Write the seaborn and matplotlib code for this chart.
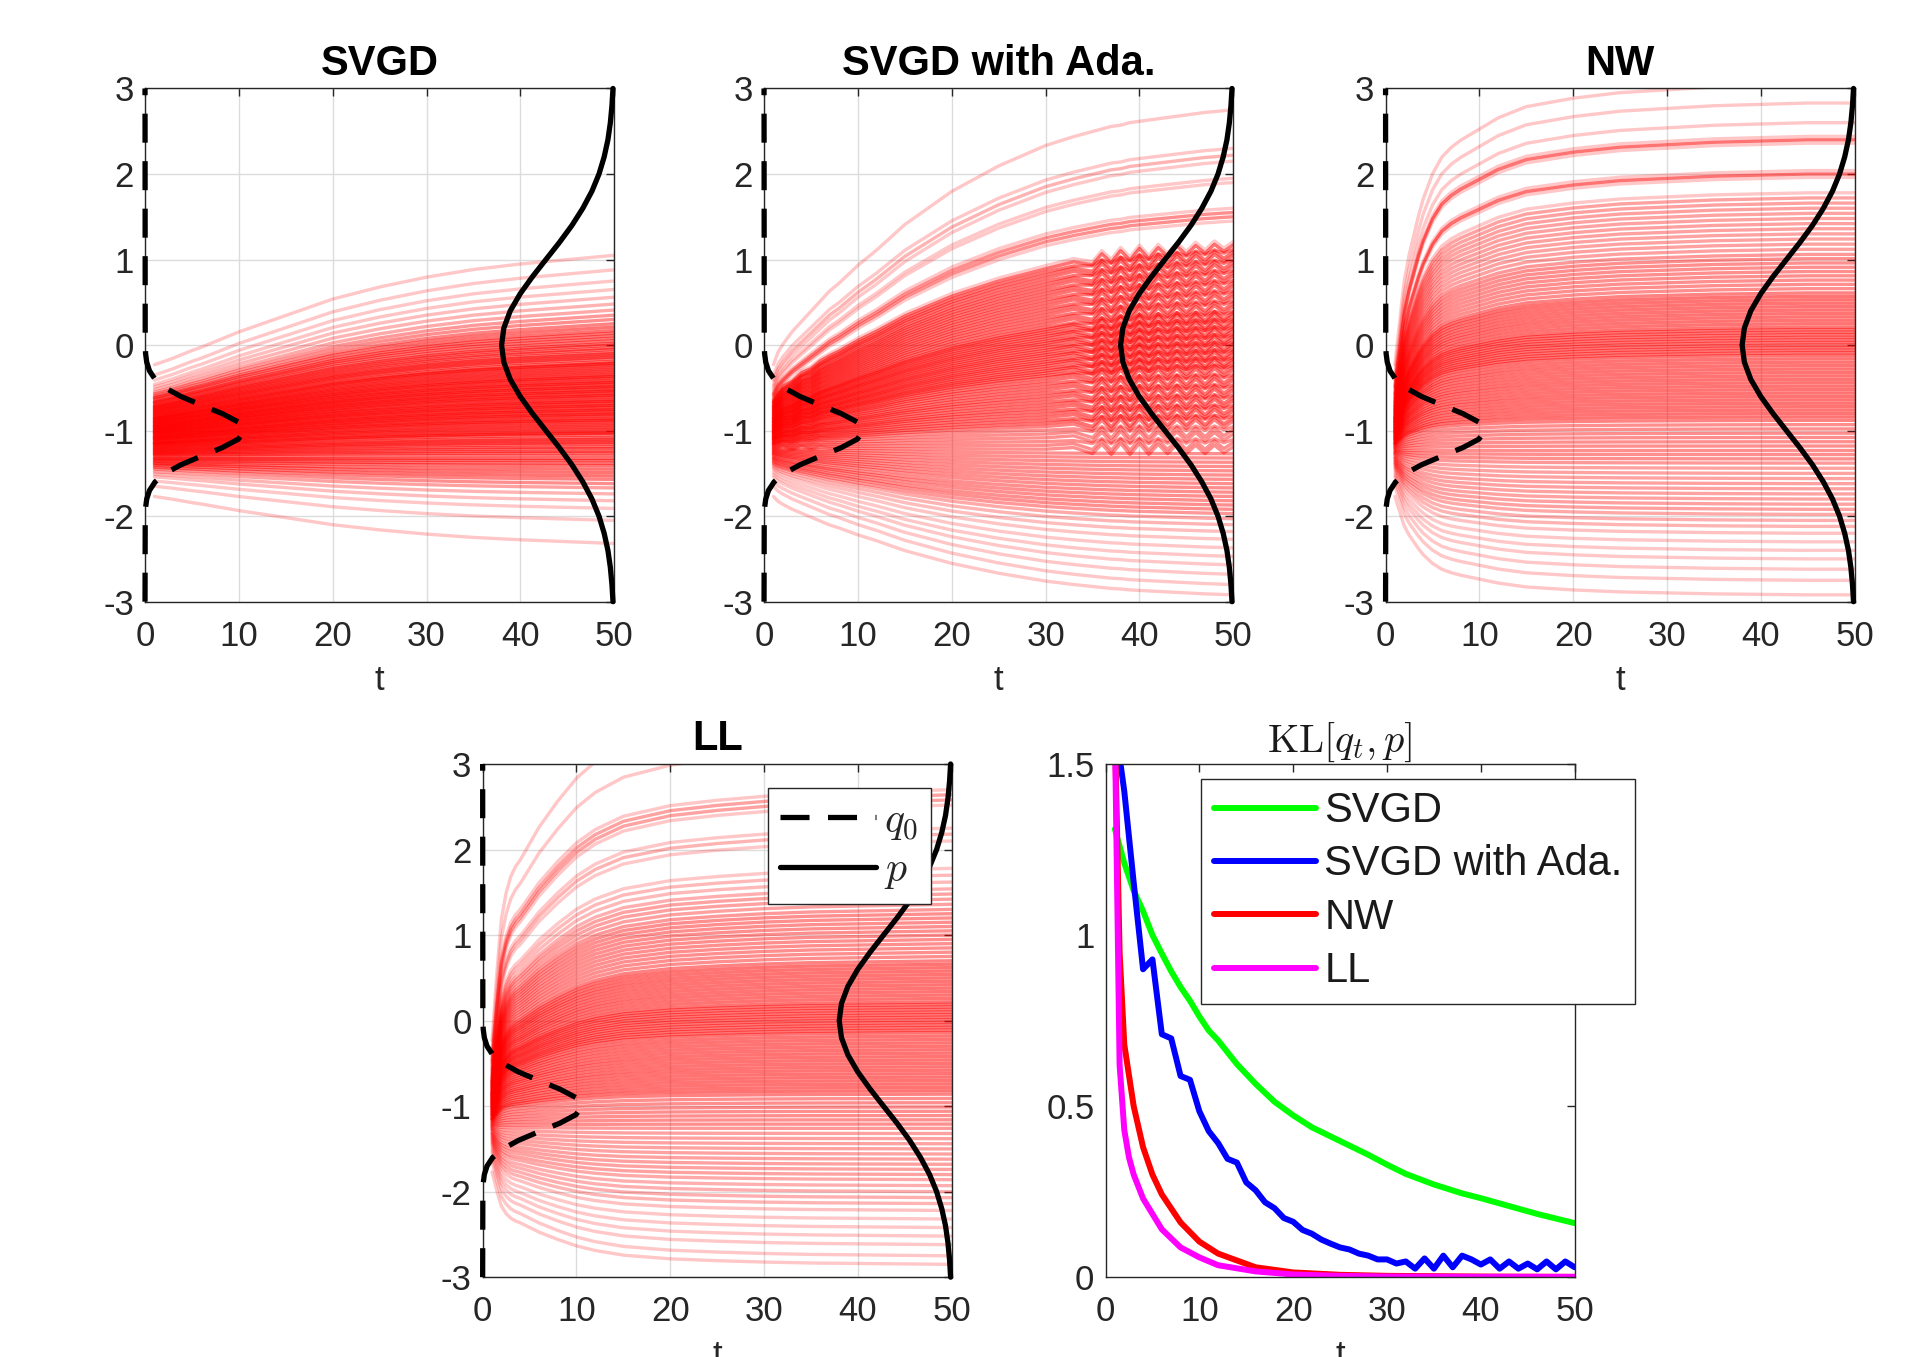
import numpy as np
import pandas as pd
import matplotlib
matplotlib.use("Agg")
import matplotlib.pyplot as plt
import seaborn as sns

# ---------------- data ----------------
panel_titles = ["SVGD", "SVGD with Ada.", "NW", "LL"]
x_ticks = [0, 10, 20, 30, 40, 50]
x_tick_labels = ["0", "10", "20", "30", "40", "50"]
y_ticks = [-3, -2, -1, 0, 1, 2, 3]
y_tick_labels = ["-3", "-2", "-1", "0", "1", "2", "3"]
kl_y_ticks = [0, 0.5, 1, 1.5]
kl_y_tick_labels = ["0", "0.5", "1", "1.5"]

# particle positions at t = 1 (samples of q0), sorted
start_pos = [
    -1.77, -1.65, -1.59, -1.54, -1.51, -1.48, -1.45, -1.43, -1.41, -1.39,
    -1.38, -1.36, -1.35, -1.33, -1.32, -1.31, -1.29, -1.28, -1.27, -1.26,
    -1.25, -1.24, -1.23, -1.22, -1.21, -1.20, -1.19, -1.18, -1.17, -1.16,
    -1.15, -1.15, -1.14, -1.13, -1.12, -1.11, -1.10, -1.10, -1.09, -1.08,
    -1.07, -1.07, -1.06, -1.05, -1.04, -1.03, -1.03, -1.02, -1.01, -1.00,
    -1.00, -0.99, -0.98, -0.97, -0.97, -0.96, -0.95, -0.94, -0.94, -0.93,
    -0.92, -0.91, -0.90, -0.90, -0.89, -0.88, -0.87, -0.86, -0.86, -0.85,
    -0.84, -0.83, -0.82, -0.81, -0.80, -0.79, -0.78, -0.77, -0.76, -0.75,
    -0.74, -0.73, -0.72, -0.71, -0.70, -0.68, -0.67, -0.66, -0.64, -0.62,
    -0.61, -0.59, -0.57, -0.55, -0.52, -0.49, -0.46, -0.41, -0.35, -0.23,
]

# particle positions at t = 50, sorted
svgd_final = [
    -2.32, -2.05, -1.91, -1.82, -1.74, -1.67, -1.62, -1.57, -1.53, -1.49,
    -1.45, -1.41, -1.38, -1.35, -1.32, -1.29, -1.26, -1.24, -1.21, -1.19,
    -1.16, -1.14, -1.12, -1.10, -1.08, -1.05, -1.03, -1.02, -1.00, -0.98,
    -0.96, -0.94, -0.92, -0.90, -0.88, -0.87, -0.85, -0.83, -0.81, -0.80,
    -0.78, -0.76, -0.75, -0.73, -0.71, -0.70, -0.68, -0.66, -0.65, -0.63,
    -0.61, -0.59, -0.58, -0.56, -0.54, -0.53, -0.51, -0.49, -0.48, -0.46,
    -0.44, -0.43, -0.41, -0.39, -0.37, -0.36, -0.34, -0.32, -0.30, -0.28,
    -0.26, -0.24, -0.22, -0.21, -0.19, -0.16, -0.14, -0.12, -0.10, -0.08,
    -0.05, -0.03, 0.00, 0.02, 0.05, 0.08, 0.11, 0.14, 0.17, 0.21,
    0.25, 0.30, 0.35, 0.41, 0.48, 0.56, 0.65, 0.75, 0.88, 1.05,
]
ada_final = [
    -2.92, -2.80, -2.68, -2.57, -2.47, -2.37, -2.27, -2.18, -2.10, -2.03,
    -1.97, -1.92, -1.87, -1.82, -1.77, -1.72, -1.67, -1.62, -1.57, -1.52,
    -1.47, -1.42, -1.37, -1.32, -1.27, -1.22, -1.17, -1.12, -1.07, -1.02,
    -0.97, -0.92, -0.88, -0.84, -0.80, -0.76, -0.72, -0.68, -0.64, -0.60,
    -0.56, -0.52, -0.48, -0.44, -0.40, -0.36, -0.32, -0.28, -0.25, -0.22,
    -0.19, -0.16, -0.13, -0.10, -0.07, -0.04, -0.01, 0.02, 0.05, 0.08,
    0.11, 0.14, 0.17, 0.20, 0.23, 0.26, 0.29, 0.32, 0.35, 0.38,
    0.42, 0.46, 0.50, 0.54, 0.58, 0.62, 0.66, 0.70, 0.74, 0.78,
    0.82, 0.86, 0.90, 0.94, 0.98, 1.02, 1.06, 1.10, 1.14, 1.18,
    1.45, 1.50, 1.55, 1.60, 1.90, 1.95, 2.15, 2.22, 2.30, 2.75,
]
nw_final = [
    -2.92, -2.75, -2.62, -2.50, -2.40, -2.30, -2.20, -2.12, -2.05, -1.98,
    -1.92, -1.86, -1.80, -1.74, -1.68, -1.62, -1.56, -1.50, -1.44, -1.38,
    -1.33, -1.28, -1.23, -1.18, -1.13, -1.08, -1.03, -0.98, -0.93, -0.88,
    -0.84, -0.80, -0.76, -0.72, -0.68, -0.64, -0.60, -0.56, -0.52, -0.48,
    -0.44, -0.40, -0.36, -0.32, -0.28, -0.24, -0.20, -0.16, -0.12, -0.09,
    -0.06, -0.03, 0.00, 0.03, 0.06, 0.09, 0.12, 0.15, 0.18, 0.21,
    0.25, 0.29, 0.33, 0.37, 0.41, 0.45, 0.49, 0.53, 0.57, 0.61,
    0.66, 0.71, 0.76, 0.81, 0.86, 0.91, 0.96, 1.01, 1.06, 1.12,
    1.18, 1.24, 1.30, 1.36, 1.42, 1.48, 1.54, 1.60, 1.66, 1.72,
    1.78, 1.96, 2.00, 2.04, 2.36, 2.40, 2.44, 2.60, 2.83, 3.05,
]
ll_final = [
    -2.85, -2.75, -2.62, -2.52, -2.42, -2.32, -2.22, -2.14, -2.07, -2.00,
    -1.93, -1.86, -1.80, -1.74, -1.68, -1.62, -1.56, -1.50, -1.44, -1.38,
    -1.32, -1.26, -1.21, -1.16, -1.11, -1.06, -1.01, -0.96, -0.91, -0.86,
    -0.82, -0.78, -0.74, -0.70, -0.66, -0.62, -0.58, -0.54, -0.50, -0.46,
    -0.42, -0.38, -0.34, -0.30, -0.26, -0.22, -0.18, -0.14, -0.11, -0.08,
    -0.05, -0.02, 0.01, 0.04, 0.07, 0.10, 0.13, 0.16, 0.19, 0.22,
    0.26, 0.30, 0.34, 0.38, 0.42, 0.46, 0.50, 0.54, 0.58, 0.62,
    0.66, 0.70, 0.75, 0.80, 0.85, 0.90, 0.95, 1.00, 1.05, 1.10,
    1.15, 1.20, 1.25, 1.30, 1.36, 1.42, 1.48, 1.54, 1.62, 1.70,
    1.78, 2.10, 2.18, 2.25, 2.52, 2.58, 2.64, 2.70, 3.20, 3.60,
]

# fraction of the way from start to final position reached at each time
path_t = [1, 1.25, 1.5, 1.75, 2, 2.5, 3, 3.5, 4, 5, 6, 7, 8, 10, 12, 15,
          20, 25, 30, 35, 40, 45, 50]
svgd_progress = [0, 0.008, 0.015, 0.022, 0.03, 0.045, 0.06, 0.078, 0.095,
                 0.13, 0.16, 0.195, 0.23, 0.30, 0.36, 0.45, 0.60, 0.71, 0.80,
                 0.87, 0.92, 0.96, 1.0]
nw_progress = [0, 0.08, 0.15, 0.23, 0.30, 0.39, 0.46, 0.53, 0.59, 0.68, 0.74,
               0.775, 0.80, 0.84, 0.88, 0.92, 0.95, 0.97, 0.98, 0.99, 0.995,
               1.0, 1.0]
ll_progress = [0, 0.10, 0.20, 0.29, 0.37, 0.45, 0.50, 0.53, 0.55, 0.60, 0.65,
               0.69, 0.73, 0.80, 0.85, 0.90, 0.94, 0.96, 0.975, 0.985, 0.99,
               0.995, 1.0]
ada_t = [1, 1.5, 2, 3, 4, 5, 6, 7, 8, 10, 12, 15, 20, 25, 30, 33,
         35, 36, 37, 38, 39, 40, 41, 42, 43, 44, 45, 46, 47, 48, 49, 50]
ada_progress = [0, 0.05, 0.08, 0.13, 0.17, 0.21, 0.25, 0.29, 0.32, 0.39,
                0.45, 0.55, 0.68, 0.78, 0.86, 0.895, 0.915, 0.925, 0.935,
                0.94, 0.95, 0.955, 0.96, 0.965, 0.97, 0.975, 0.98, 0.985,
                0.99, 0.993, 0.997, 1.0]
ada_wiggle = [0, 0, 0.015, -0.015, 0.015, -0.01, 0.01, 0, 0, 0,
              0, 0, 0, 0, 0, 0.02, -0.05, 0.06, -0.06, 0.07,
              -0.06, 0.07, -0.06, 0.06, -0.05, 0.06, -0.05, 0.05, -0.05, 0.05,
              -0.04, 0.03]

# target density p (solid, drawn leftwards from t = 50)
p_y = [-3.0, -2.8, -2.6, -2.4, -2.2, -2.0, -1.8, -1.6, -1.4, -1.2, -1.0,
       -0.8, -0.6, -0.4, -0.2, 0.0, 0.2, 0.4, 0.6, 0.8, 1.0, 1.2, 1.4,
       1.6, 1.8, 2.0, 2.2, 2.4, 2.6, 2.8, 3.0]
p_x = [49.87, 49.76, 49.59, 49.33, 48.93, 48.38, 47.63, 46.66, 45.50, 44.16,
       42.72, 41.29, 39.98, 38.92, 38.24, 38.00, 38.24, 38.92, 39.98, 41.29,
       42.72, 44.16, 45.50, 46.66, 47.63, 48.38, 48.93, 49.33, 49.59, 49.76,
       49.87]
# initial density q0 (dashed, drawn rightwards from t = 0)
q0_y = [-3.0, -2.0, -1.9, -1.8, -1.7, -1.6, -1.5, -1.4, -1.3, -1.2, -1.1,
        -1.0, -0.9, -0.8, -0.7, -0.6, -0.5, -0.4, -0.3, -0.2, -0.1, 0.0, 3.0]
q0_x = [0.0, 0.02, 0.06, 0.18, 0.47, 1.07, 2.15, 3.82, 5.97, 8.21, 9.94,
        10.60, 9.94, 8.21, 5.97, 3.82, 2.15, 1.07, 0.47, 0.18, 0.06, 0.02,
        0.0]

# KL divergence curves
kl_svgd_t = [1, 2, 3, 4, 5, 6, 7, 8, 9, 10, 11, 12, 14, 16, 18, 20, 22, 25,
             28, 30, 32, 35, 38, 40, 43, 46, 50]
kl_svgd = [1.31, 1.21, 1.13, 1.07, 1.00, 0.946, 0.894, 0.848, 0.808, 0.762,
           0.721, 0.692, 0.623, 0.565, 0.513, 0.473, 0.438, 0.398, 0.358,
           0.329, 0.302, 0.271, 0.245, 0.231, 0.208, 0.185, 0.158]
kl_ada_t = list(range(1, 51))
kl_ada = [1.62, 1.42, 1.154, 0.90, 0.929, 0.71, 0.698, 0.588, 0.577, 0.485,
          0.427, 0.392, 0.346, 0.335, 0.277, 0.254, 0.219, 0.202, 0.173, 0.162,
          0.138, 0.127, 0.110, 0.098, 0.087, 0.081, 0.069, 0.063, 0.052, 0.052,
          0.040, 0.046, 0.025, 0.055, 0.025, 0.063, 0.029, 0.063, 0.052, 0.037,
          0.052, 0.025, 0.046, 0.025, 0.040, 0.023, 0.046, 0.023, 0.046, 0.029]
kl_nw_t = [1, 1.5, 2, 3, 4, 5, 6, 8, 10, 12, 16, 20, 25, 30, 40, 50]
kl_nw = [1.6, 0.95, 0.68, 0.50, 0.38, 0.30, 0.242, 0.16, 0.104, 0.069, 0.029,
         0.014, 0.007, 0.004, 0.002, 0.001]
kl_ll_t = [1, 1.5, 2, 2.5, 3, 4, 5, 6, 8, 10, 12, 16, 20, 25, 30, 40, 50]
kl_ll = [1.6, 0.62, 0.43, 0.35, 0.30, 0.23, 0.185, 0.14, 0.087, 0.058, 0.035,
         0.017, 0.008, 0.004, 0.002, 0.001, 0.001]
kl_names = ["SVGD", "SVGD with Ada.", "NW", "LL"]
kl_colors = ["#00ff00", "#0000ff", "#ff0000", "#ff00ff"]

# ---------------- style ----------------
sns.set_theme(style="white")
plt.rcParams["font.family"] = ["Liberation Sans", "DejaVu Sans"]
plt.rcParams["mathtext.fontset"] = "cm"
plt.rcParams["axes.unicode_minus"] = False

TICK_FS = 25
TITLE_FS = 30
LEG_FS = 30
AX_COLOR = "#262626"


def style_axes(ax, yticks, ylabels, ylim, grid=True):
    ax.set_xlim(0, 50)
    ax.set_ylim(*ylim)
    ax.set_xticks(x_ticks)
    ax.set_xticklabels(x_tick_labels)
    ax.set_yticks(yticks)
    ax.set_yticklabels(ylabels)
    ax.tick_params(direction="in", top=True, right=True, length=6, width=1,
                   colors=AX_COLOR, labelsize=TICK_FS)
    ax.tick_params(axis="x", pad=13)
    ax.tick_params(axis="y", pad=8)
    for s in ax.spines.values():
        s.set_color(AX_COLOR)
        s.set_linewidth(1.0)
    if grid:
        ax.grid(True, color="#dcdcdc", linewidth=1.0)
        ax.set_axisbelow(True)
    ax.set_xlabel("t", fontsize=TICK_FS, color=AX_COLOR, labelpad=8)


def draw_particles(ax, times, progress, finals, wiggle=None):
    f_arr = np.array(finals)
    s = np.array(start_pos)[None, :]
    f = f_arr[None, :]
    prog = np.array(progress)[:, None]
    paths = s + (f - s) * prog
    if wiggle is not None:
        w = np.array(wiggle)[:, None]
        amp = np.where(np.arange(len(finals)) % 3 == 0, 0.5, 1.0)[None, :]
        mask = (np.abs(f_arr) < 1.25)[None, :]
        paths = paths + w * amp * mask
    # crowded particles read as solid red, isolated ones as faint pink
    spacing = np.gradient(f_arr)
    alphas = np.clip(0.022 / spacing, 0.22, 0.55)
    for i in np.argsort(alphas):
        ax.plot(times, paths[:, i], color="red", alpha=alphas[i],
                linewidth=2.4, solid_joinstyle="round")


def draw_densities(ax):
    ax.plot(q0_x, q0_y, color="black", linewidth=3.8, linestyle=(0, (5.5, 3.5)),
            clip_on=False, zorder=5)
    ax.plot(p_x, p_y, color="black", linewidth=3.8, clip_on=False, zorder=5)


fig = plt.figure(figsize=(19.26, 13.57), dpi=100)
W, H = 0.2436, 0.3782
ax_svgd = fig.add_axes([0.0753, 0.5566, W, H])
ax_ada = fig.add_axes([0.3967, 0.5566, W, H])
ax_nw = fig.add_axes([0.7194, 0.5566, W, H])
ax_ll = fig.add_axes([0.2506, 0.0588, W, H])
ax_kl = fig.add_axes([0.5740, 0.0588, W, H])

draw_particles(ax_svgd, path_t, svgd_progress, svgd_final)
draw_particles(ax_ada, ada_t, ada_progress, ada_final, wiggle=ada_wiggle)
draw_particles(ax_nw, path_t, nw_progress, nw_final)
draw_particles(ax_ll, path_t, ll_progress, ll_final)

for ax, title in zip([ax_svgd, ax_ada, ax_nw, ax_ll], panel_titles):
    draw_densities(ax)
    style_axes(ax, y_ticks, y_tick_labels, (-3, 3))
    ax.set_title(title, fontsize=TITLE_FS, fontweight="bold", pad=10,
                 color="black")

# legend for q0 / p in the LL panel
h_q0, = ax_ll.plot([], [], color="black", linewidth=3.8,
                   linestyle=(0, (5.5, 3.5)))
h_p, = ax_ll.plot([], [], color="black", linewidth=3.8)
leg = ax_ll.legend([h_q0, h_p], [r"$q_0$", r"$p$"], loc="upper left",
                   bbox_to_anchor=(0.3986, 0.419),
                   bbox_transform=fig.transFigure, borderaxespad=0,
                   fontsize=LEG_FS, handlelength=2.3, handletextpad=0.2,
                   labelspacing=0.2, borderpad=0.3, fancybox=False,
                   framealpha=1, edgecolor=AX_COLOR)
leg.get_frame().set_linewidth(1.0)

# KL panel
kl_df = pd.concat([
    pd.DataFrame({"t": t, "kl": v, "method": name})
    for t, v, name in zip([kl_svgd_t, kl_ada_t, kl_nw_t, kl_ll_t],
                          [kl_svgd, kl_ada, kl_nw, kl_ll], kl_names)
])
sns.lineplot(data=kl_df, x="t", y="kl", hue="method", hue_order=kl_names,
             palette=dict(zip(kl_names, kl_colors)), estimator=None,
             sort=False, linewidth=4.3, ax=ax_kl, legend=False)
style_axes(ax_kl, kl_y_ticks, kl_y_tick_labels, (0, 1.5), grid=False)
ax_kl.set_ylabel("")
ax_kl.set_title(r"$\mathrm{KL}[q_t,p]$", fontsize=29, pad=9, color="#1a1a1a")
kl_handles = [plt.Line2D([], [], color=c, linewidth=4.3) for c in kl_colors]
leg2 = ax_kl.legend(kl_handles, kl_names, loc="upper left",
                    bbox_to_anchor=(0.6237, 0.4262),
                    bbox_transform=fig.transFigure, borderaxespad=0,
                    fontsize=LEG_FS, handlelength=2.45, handletextpad=0.2,
                    labelspacing=0.32, borderpad=0.3, fancybox=False,
                    framealpha=1, edgecolor=AX_COLOR)
leg2.get_frame().set_linewidth(1.0)
for txt in leg2.get_texts():
    txt.set_color("#1a1a1a")

fig.savefig("out.png", dpi=100)
